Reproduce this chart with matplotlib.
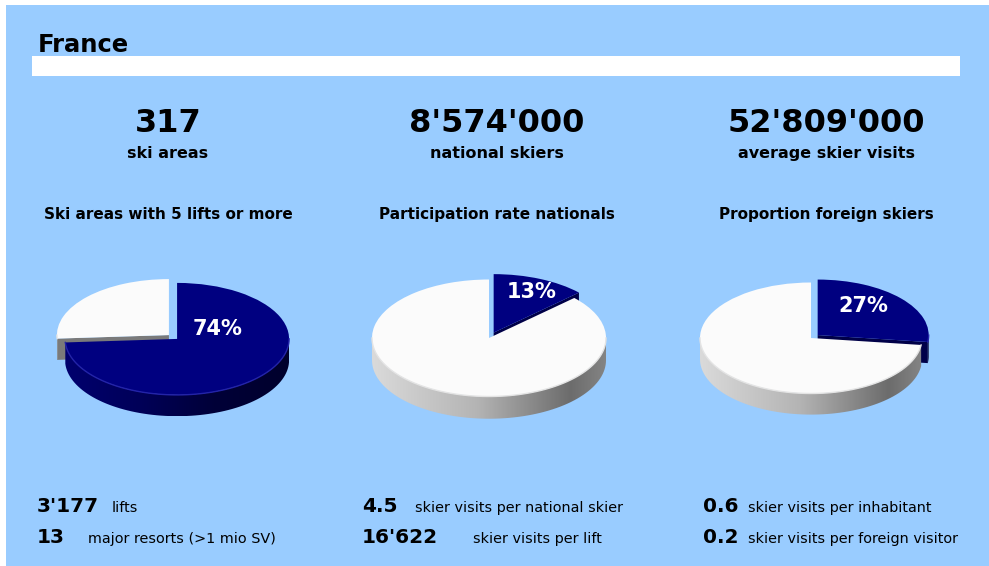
import numpy as np
import matplotlib.pyplot as plt
from matplotlib.patches import Rectangle, Polygon
from matplotlib.colors import LinearSegmentedColormap

plt.rcParams["font.family"] = ["DejaVu Sans"]

# --- data ---
country = "France"
headline_values = ["317", "8'574'000", "52'809'000"]
headline_labels = ["ski areas", "national skiers", "average skier visits"]
pie_titles = ["Ski areas with 5 lifts or more", "Participation rate nationals",
              "Proportion foreign skiers"]
pie_shares = [74, 13, 27]
row1_values = ["3'177", "4.5", "0.6"]
row1_labels = ["lifts", "skier visits per national skier", "skier visits per inhabitant"]
row2_values = ["13", "16'622", "0.2"]
row2_labels = ["major resorts (>1 mio SV)", "skier visits per lift",
               "skier visits per foreign visitor"]

# --- layout / style ---
W, H = 989, 566
BLUE = "#99ccff"
NAVY = "#000080"
TOP_WHITE = "#fbfbfb"
col_x = [168, 497, 826]
pie_cx = [173, 489, 811]
pie_cy = [337, 338, 338]
pie_a = [112, 117, 111]
pie_explode = [(0.05, 0.05), (0.1, 0.0), (0.08, 0.0)]
pct_xy = [(218, 329), (532, 292), (863, 306)]
num_x = [37, 362, 703]
lab1_x = [112, 415, 748]
lab2_x = [88, 473, 748]
DEPTH = 0.38

navy_side = LinearSegmentedColormap.from_list("ns", ["#00006e", "#000058", "#000038", "#00002c"])
white_side = LinearSegmentedColormap.from_list(
    "ws", [(0, "#dadada"), (0.45, "#b4b4b4"), (0.85, "#6c6c6c"), (1, "#848484")])

fig = plt.figure(figsize=(W / 100, H / 100), dpi=100, facecolor="white")
# blue panel and white bar under the title
fig.patches.append(Rectangle((6 / W, 0), (W - 6) / W, (H - 5) / H, transform=fig.transFigure,
                             facecolor=BLUE, edgecolor="none", zorder=-1))
fig.patches.append(Rectangle((32 / W, 1 - 76 / H), 928 / W, 20 / H, transform=fig.transFigure,
                             facecolor="white", edgecolor="none", zorder=-1))


def front_ranges(t1, t2):
    out = []
    for k in (-2, -1, 0, 1):
        lo, hi = max(t1, 180 + 360 * k), min(t2, 360 + 360 * k)
        if hi > lo:
            out.append((lo, hi))
    return out


def draw_pie(cx, cy, a, share, explode):
    b = a * 0.5
    x0, x1, y0, y1 = -1.3, 1.3, -1.9, 1.3
    ax = fig.add_axes([(cx + x0 * a) / W, (H - cy + y0 * b) / H,
                       (x1 - x0) * a / W, (y1 - y0) * b / H])
    wedges, _ = ax.pie([share, 100 - share], colors=[NAVY, TOP_WHITE], startangle=90,
                       counterclock=False, explode=explode,
                       wedgeprops=dict(linewidth=0, zorder=3))
    styles = [(navy_side, "#000048", "#2323a8"), (white_side, "#7a7a7a", "#e4e4e4")]
    for w, (cmap, face_col, rim) in zip(wedges, styles):
        ox, oy = w.center
        r, t1, t2 = w.r, w.theta1, w.theta2
        # radial cut faces seen from the front
        for th, visible in ((t1, np.cos(np.radians(t1)) > 0.01),
                            (t2, np.cos(np.radians(t2)) < -0.01)):
            if not visible:
                continue
            ex, ey = ox + r * np.cos(np.radians(th)), oy + r * np.sin(np.radians(th))
            ax.add_patch(Polygon([(ox, oy), (ex, ey), (ex, ey - DEPTH), (ox, oy - DEPTH)],
                                 closed=True, facecolor=face_col, edgecolor="none", zorder=1))
        # outer rim with shading
        for lo, hi in front_ranges(t1, t2):
            t = np.radians(np.linspace(lo, hi, 80))
            top = np.column_stack([ox + r * np.cos(t), oy + r * np.sin(t)])
            bot = top - [0, DEPTH]
            poly = Polygon(np.vstack([top, bot[::-1]]), closed=True,
                           facecolor="none", edgecolor="none", zorder=2)
            ax.add_patch(poly)
            im = ax.imshow(np.linspace(0, 1, 256).reshape(1, -1), cmap=cmap,
                           extent=(ox - r, ox + r, oy - r - DEPTH, oy + r),
                           aspect="auto", zorder=2)
            im.set_clip_path(poly)
            ax.plot(top[:, 0], top[:, 1], color=rim, lw=1.0, zorder=4)
    ax.set_aspect("auto")
    ax.set_xlim(x0, x1)
    ax.set_ylim(y0, y1)
    ax.axis("off")


for i in range(3):
    draw_pie(pie_cx[i], pie_cy[i], pie_a[i], pie_shares[i], pie_explode[i])

# text layer on top of everything, in pixel coordinates
txt = fig.add_axes([0, 0, 1, 1], zorder=5)
txt.set_xlim(0, W)
txt.set_ylim(H, 0)
txt.axis("off")

txt.text(38, 52, country, fontsize=17.5, fontweight="bold", va="baseline")
for i in range(3):
    txt.text(col_x[i], 132, headline_values[i], fontsize=23, fontweight="bold",
             ha="center", va="baseline")
    txt.text(col_x[i], 158, headline_labels[i], fontsize=11.5, fontweight="bold",
             ha="center", va="baseline")
    txt.text(col_x[i], 219, pie_titles[i], fontsize=11, fontweight="bold",
             ha="center", va="baseline")
    txt.text(pct_xy[i][0], pct_xy[i][1], f"{pie_shares[i]}%", color="white",
             fontsize=15, fontweight="bold", ha="center", va="center")
    txt.text(num_x[i], 512, row1_values[i], fontsize=14.5, fontweight="bold", va="baseline")
    txt.text(lab1_x[i], 512, row1_labels[i], fontsize=10.4, va="baseline")
    txt.text(num_x[i], 543, row2_values[i], fontsize=14.5, fontweight="bold", va="baseline")
    txt.text(lab2_x[i], 543, row2_labels[i], fontsize=10.4, va="baseline")

fig.savefig("out.png", dpi=100, facecolor=fig.get_facecolor())
